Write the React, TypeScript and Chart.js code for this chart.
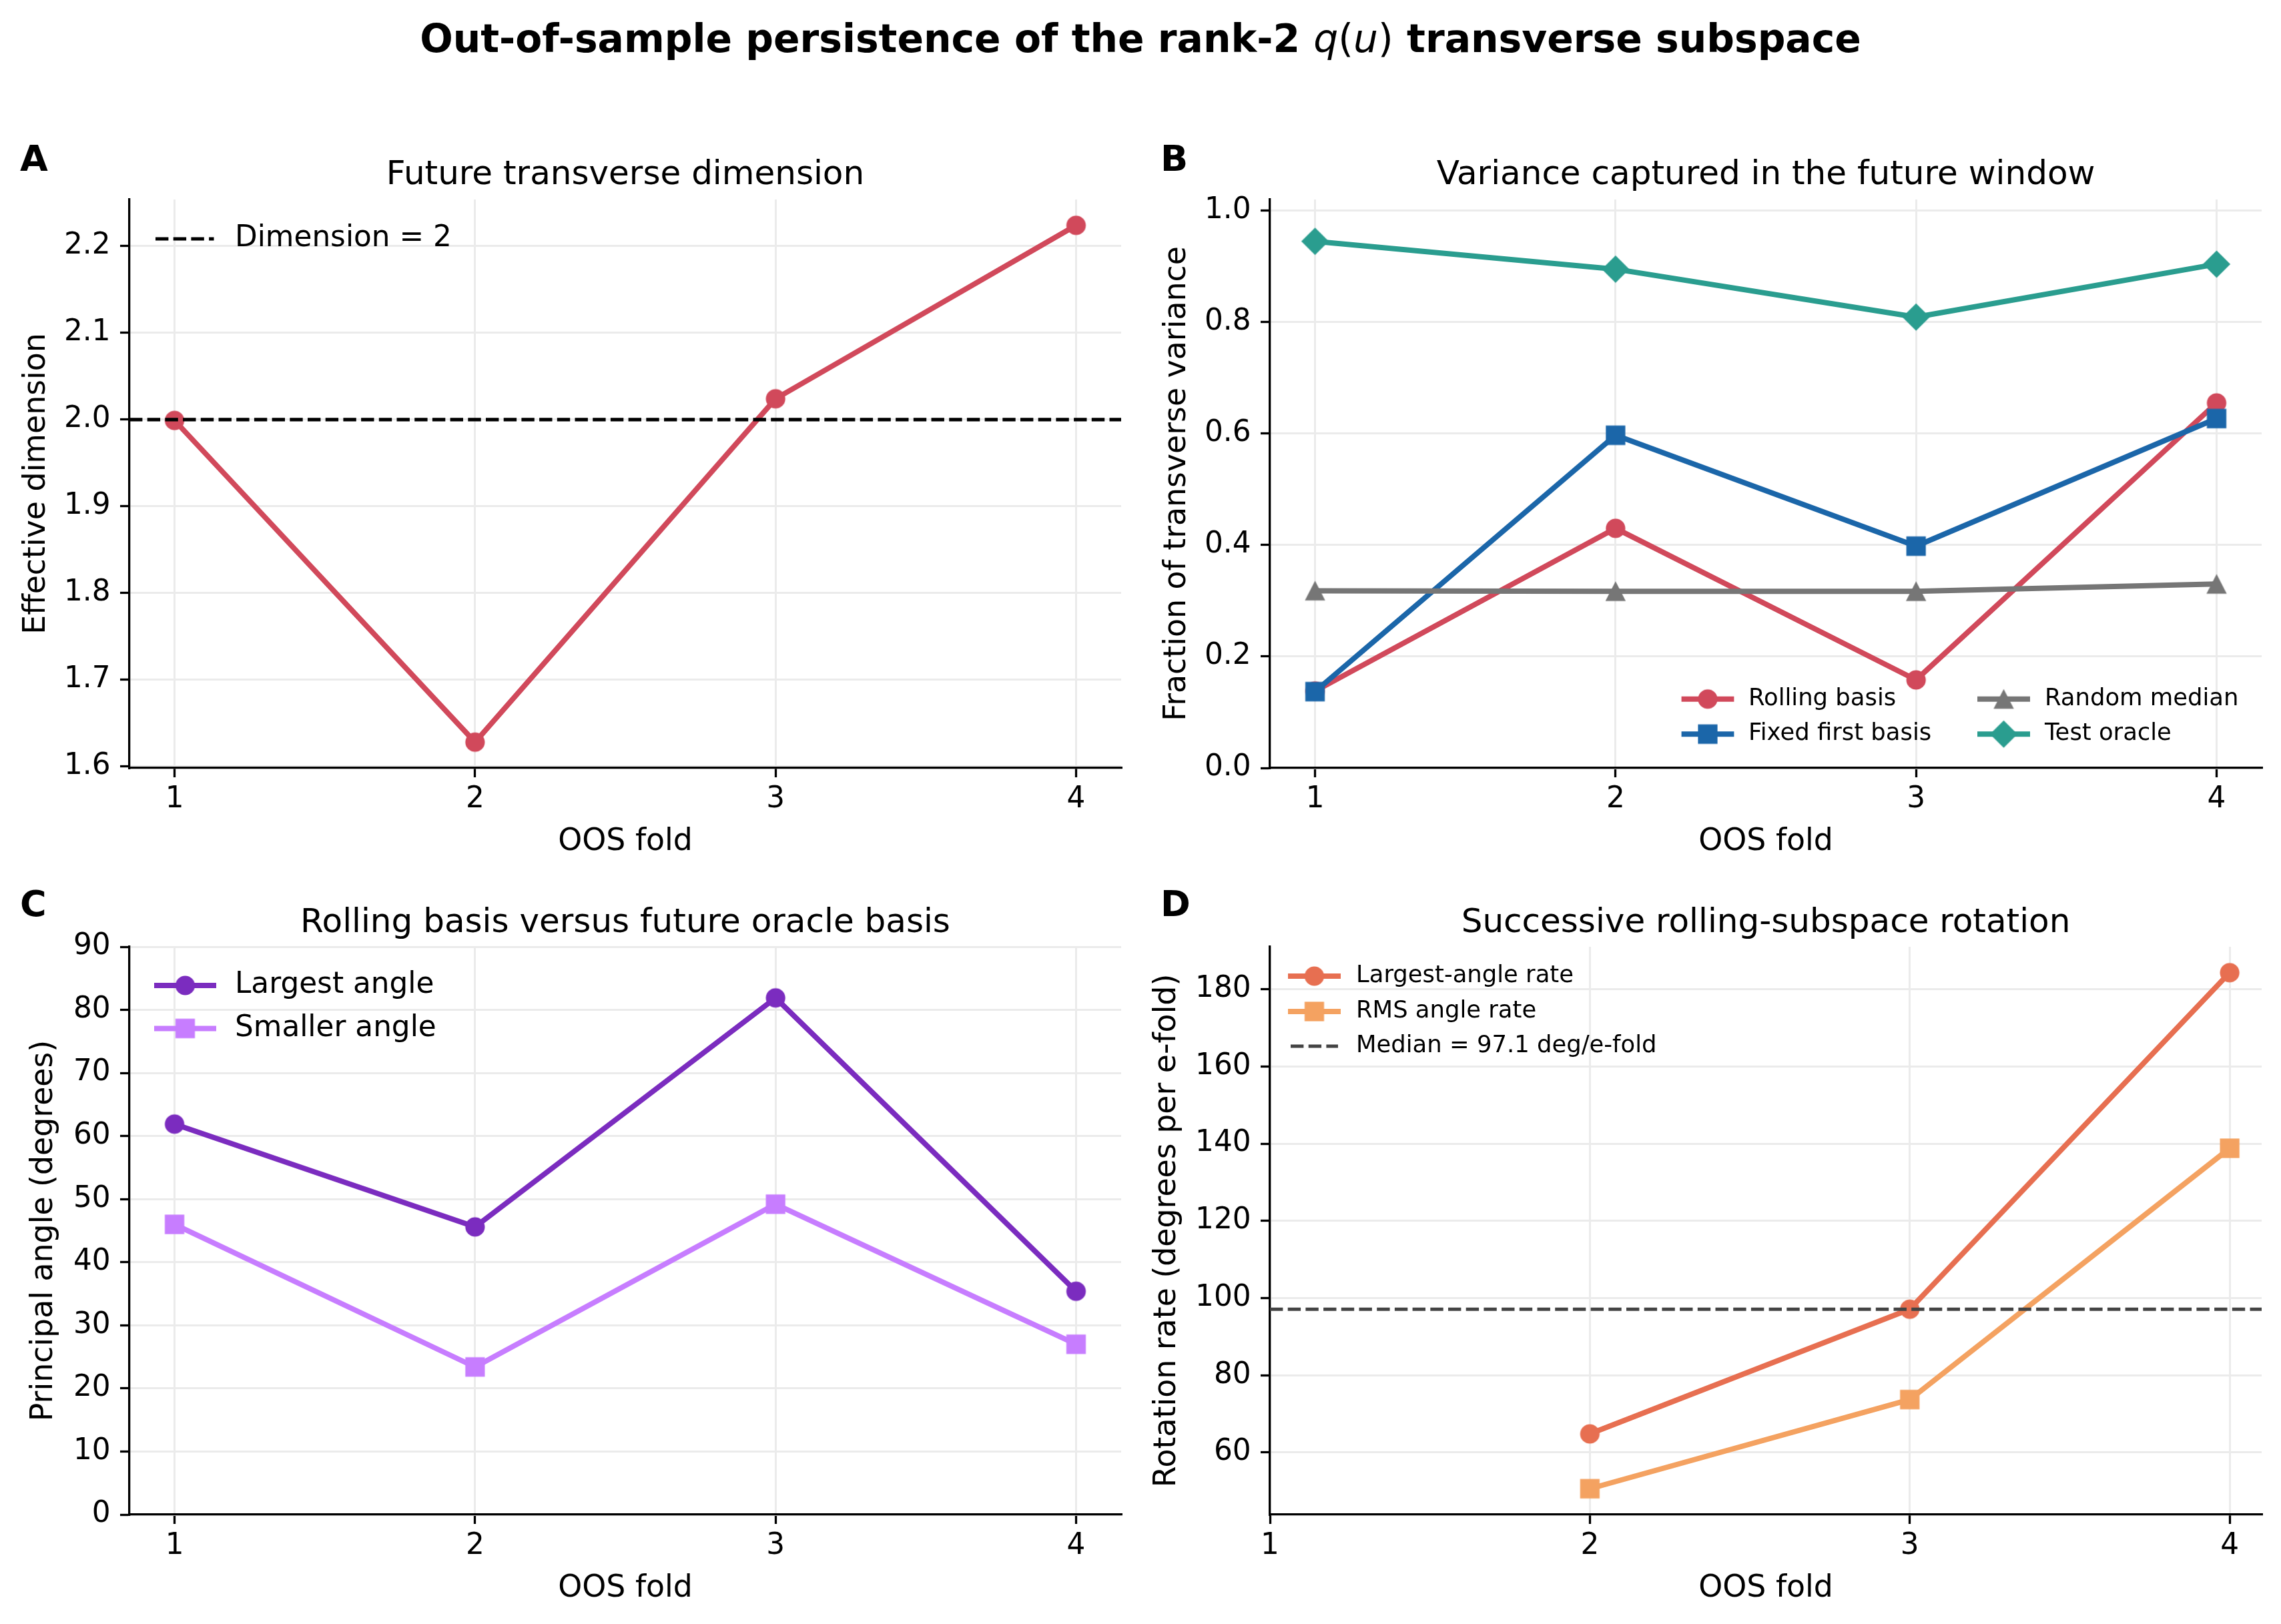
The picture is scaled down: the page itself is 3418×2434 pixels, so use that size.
import React, { useEffect, useRef } from 'react';
import { Chart, registerables } from 'chart.js';

Chart.register(...registerables);

const FONT = 'DejaVu Sans';

// ---------------- data ----------------
const folds = [1, 2, 3, 4];
const foldTicks = [1, 2, 3, 4];

// Panel A
const effectiveDimension = [1.999, 1.628, 2.024, 2.224];
const dimensionReference = 2;
const dimensionTicks = [1.6, 1.7, 1.8, 1.9, 2.0, 2.1, 2.2];

// Panel B
const rollingBasis = [0.138, 0.43, 0.158, 0.655];
const fixedFirstBasis = [0.137, 0.597, 0.398, 0.627];
const randomMedian = [0.318, 0.317, 0.317, 0.33];
const testOracle = [0.945, 0.895, 0.809, 0.904];
const varianceTicks = [0, 0.2, 0.4, 0.6, 0.8, 1.0];

// Panel C
const largestAngle = [61.9, 45.6, 81.9, 35.4];
const smallerAngle = [46.0, 23.4, 49.2, 27.0];
const angleTicks = [0, 10, 20, 30, 40, 50, 60, 70, 80, 90];

// Panel D
const rateFolds = [2, 3, 4];
const largestAngleRate = [64.8, 97.1, 184.3];
const rmsAngleRate = [50.6, 73.7, 138.8];
const medianRate = 97.1;
const rateTicks = [60, 80, 100, 120, 140, 160, 180];

// ---------------- colours ----------------
const RED = '#d1495b';
const BLUE = '#1b66a9';
const GRAY = '#767676';
const TEAL = '#2a9d8f';
const PURPLE = '#7b2cbf';
const LILAC = '#c77dff';
const ORANGE = '#e76f51';
const SAND = '#f4a261';
const DARK = '#444444';

const DASH = [19.4, 7.3];

type Shape = 'circle' | 'square' | 'triangle' | 'diamond';

function makeMarker(shape: Shape, color: string): HTMLCanvasElement {
  const c = document.createElement('canvas');
  const s = shape === 'diamond' ? 44 : 32;
  c.width = s;
  c.height = s;
  const g = c.getContext('2d')!;
  const m = s / 2;
  g.fillStyle = color;
  g.beginPath();
  if (shape === 'circle') g.arc(m, m, 14.6, 0, Math.PI * 2);
  else if (shape === 'square') g.rect(m - 14.6, m - 14.6, 29.2, 29.2);
  else if (shape === 'triangle') {
    g.moveTo(m, m - 15);
    g.lineTo(m + 15.2, m + 14.6);
    g.lineTo(m - 15.2, m + 14.6);
    g.closePath();
  } else {
    g.moveTo(m, m - 20.6);
    g.lineTo(m + 20.6, m);
    g.lineTo(m, m + 20.6);
    g.lineTo(m - 20.6, m);
    g.closePath();
  }
  g.fill();
  return c;
}

interface Series {
  label: string;
  xs: number[];
  ys: number[];
  color: string;
  width: number;
  marker?: Shape;
  dash?: number[];
}

interface LegendItem {
  s: number;
  hx0: number;
  hx1: number;
  tx: number;
  y: number;
}

interface Panel {
  letter: string;
  title: string;
  ylabel: string;
  cx: number;
  cy: number;
  cw: number;
  ch: number;
  areaTop: number;
  padBottom: number;
  titleBaseline: number;
  letterBaseline: number;
  yTitlePad: number;
  xTitlePad: number;
  xMin: number;
  xMax: number;
  yMin: number;
  yMax: number;
  yTicks: number[];
  yFmt: (v: number) => string;
  series: Series[];
  legend: LegendItem[];
  legendFont: number;
}

const fmt1 = (v: number) => v.toFixed(1);
const fmt0 = (v: number) => String(Math.round(v));

const panels: Panel[] = [
  {
    letter: 'A',
    title: 'Future transverse dimension',
    ylabel: 'Effective dimension',
    cx: 0, cy: 0, cw: 1709, ch: 1300,
    areaTop: 299, padBottom: 9,
    titleBaseline: 276, letterBaseline: 256,
    yTitlePad: 27.5, xTitlePad: 1.8,
    xMin: 0.85, xMax: 4.15, yMin: 1.5982, yMax: 2.2538,
    yTicks: dimensionTicks, yFmt: fmt1,
    series: [
      { label: 'Effective dimension', xs: folds, ys: effectiveDimension, color: RED, width: 8, marker: 'circle' },
      { label: 'Dimension = 2', xs: [0.85, 4.15], ys: [dimensionReference, dimensionReference], color: '#000', width: 5.2, dash: DASH },
    ],
    legend: [{ s: 1, hx0: 233, hx1: 320.5, tx: 352, y: 358 }],
    legendFont: 43.75,
  },
  {
    letter: 'B',
    title: 'Variance captured in the future window',
    ylabel: 'Fraction of transverse variance',
    cx: 1709, cy: 0, cw: 1709, ch: 1300,
    areaTop: 299, padBottom: 9,
    titleBaseline: 276, letterBaseline: 256,
    yTitlePad: 27.5, xTitlePad: 1.8,
    xMin: 0.85, xMax: 4.15, yMin: 0, yMax: 1.02,
    yTicks: varianceTicks, yFmt: fmt1,
    series: [
      { label: 'Rolling basis', xs: folds, ys: rollingBasis, color: RED, width: 8, marker: 'circle' },
      { label: 'Fixed first basis', xs: folds, ys: fixedFirstBasis, color: BLUE, width: 8, marker: 'square' },
      { label: 'Random median', xs: folds, ys: randomMedian, color: GRAY, width: 8, marker: 'triangle' },
      { label: 'Test oracle', xs: folds, ys: testOracle, color: TEAL, width: 8, marker: 'diamond' },
    ],
    legend: [
      { s: 0, hx0: 810.6, hx1: 889.4, tx: 911, y: 1047.7 },
      { s: 1, hx0: 810.6, hx1: 889.4, tx: 911, y: 1100.3 },
      { s: 2, hx0: 1254, hx1: 1333, tx: 1355, y: 1047.7 },
      { s: 3, hx0: 1254, hx1: 1333, tx: 1355, y: 1100.3 },
    ],
    legendFont: 35.4,
  },
  {
    letter: 'C',
    title: 'Rolling basis versus future oracle basis',
    ylabel: 'Principal angle (degrees)',
    cx: 0, cy: 1217, cw: 1709, ch: 1217,
    areaTop: 202, padBottom: 24,
    titleBaseline: 180, letterBaseline: 156,
    yTitlePad: 38.5, xTitlePad: 1.6,
    xMin: 0.85, xMax: 4.15, yMin: 0, yMax: 90,
    yTicks: angleTicks, yFmt: fmt0,
    series: [
      { label: 'Largest angle', xs: folds, ys: largestAngle, color: PURPLE, width: 8, marker: 'circle' },
      { label: 'Smaller angle', xs: folds, ys: smallerAngle, color: LILAC, width: 8, marker: 'square' },
    ],
    legend: [
      { s: 0, hx0: 231, hx1: 324, tx: 352, y: 260 },
      { s: 1, hx0: 231, hx1: 324, tx: 352, y: 324.4 },
    ],
    legendFont: 43.75,
  },
  {
    letter: 'D',
    title: 'Successive rolling-subspace rotation',
    ylabel: 'Rotation rate (degrees per e-fold)',
    cx: 1709, cy: 1217, cw: 1709, ch: 1217,
    areaTop: 202, padBottom: 24,
    titleBaseline: 180, letterBaseline: 156,
    yTitlePad: 12.5, xTitlePad: 1.6,
    xMin: 1, xMax: 4.1, yMin: 43.9, yMax: 191.0,
    yTicks: rateTicks, yFmt: fmt0,
    series: [
      { label: 'Largest-angle rate', xs: rateFolds, ys: largestAngleRate, color: ORANGE, width: 8, marker: 'circle' },
      { label: 'RMS angle rate', xs: rateFolds, ys: rmsAngleRate, color: SAND, width: 8, marker: 'square' },
      { label: 'Median = 97.1 deg/e-fold', xs: [1, 4.1], ys: [medianRate, medianRate], color: DARK, width: 5.2, dash: DASH },
    ],
    legend: [
      { s: 0, hx0: 221, hx1: 300, tx: 323, y: 246 },
      { s: 1, hx0: 221, hx1: 300, tx: 323, y: 299 },
      { s: 2, hx0: 225, hx1: 296, tx: 323, y: 351 },
    ],
    legendFont: 35.4,
  },
];

const Y_AXIS_W = 194;
const X_AXIS_H = 140;

function buildConfig(p: Panel): any {
  const markers = p.series.map((s) => (s.marker ? makeMarker(s.marker, s.color) : null));
  const n = p.series.length;
  const datasets = p.series.map((s, i) => ({
    label: s.label,
    data: s.xs.map((x, j) => ({ x, y: s.ys[j] })),
    borderColor: s.color,
    backgroundColor: s.color,
    borderWidth: s.width,
    borderDash: s.dash || [],
    borderJoinStyle: 'round',
    borderCapStyle: 'butt',
    pointStyle: markers[i] || 'circle',
    pointRadius: markers[i] ? 15 : 0,
    pointBorderWidth: 0,
    tension: 0,
    fill: false,
    order: n - i,
  }));

  const grid = {
    color: '#ebebeb',
    lineWidth: 3,
    tickColor: '#000',
    tickLength: 14,
    tickWidth: 3.3,
    drawTicks: true,
  };
  const border = { display: true, color: '#000', width: 3.3 };

  const decor = {
    id: 'decor' + p.letter,
    afterDatasetsDraw(chart: any) {
      const ctx: CanvasRenderingContext2D = chart.ctx;
      ctx.save();
      for (const it of p.legend) {
        const s = p.series[it.s];
        ctx.strokeStyle = s.color;
        ctx.lineWidth = s.width;
        ctx.lineCap = 'butt';
        ctx.setLineDash(s.dash || []);
        ctx.beginPath();
        ctx.moveTo(it.hx0, it.y);
        ctx.lineTo(it.hx1, it.y);
        ctx.stroke();
        ctx.setLineDash([]);
        const mk = markers[it.s];
        if (mk) {
          ctx.drawImage(mk, (it.hx0 + it.hx1) / 2 - mk.width / 2, it.y - mk.height / 2);
        }
        ctx.fillStyle = '#000';
        ctx.font = `${p.legendFont}px "${FONT}"`;
        ctx.textAlign = 'left';
        ctx.textBaseline = 'middle';
        ctx.fillText(s.label, it.tx, it.y);
      }
      ctx.restore();
    },
    afterDraw(chart: any) {
      const ctx: CanvasRenderingContext2D = chart.ctx;
      const a = chart.chartArea;
      ctx.save();
      ctx.fillStyle = '#000';
      ctx.font = `50px "${FONT}"`;
      ctx.textAlign = 'center';
      ctx.textBaseline = 'alphabetic';
      ctx.fillText(p.title, (a.left + a.right) / 2, p.titleBaseline);
      ctx.font = `bold 54px "${FONT}"`;
      ctx.textAlign = 'left';
      ctx.fillText(p.letter, 30, p.letterBaseline);
      ctx.restore();
    },
  };

  return {
    type: 'line',
    data: { datasets },
    plugins: [decor],
    options: {
      animation: false,
      responsive: false,
      maintainAspectRatio: false,
      events: [],
      layout: {
        padding: { left: 0, right: p.cw - 1680, top: p.areaTop, bottom: p.padBottom },
      },
      plugins: {
        legend: { display: false },
        tooltip: { enabled: false },
        title: { display: false },
      },
      scales: {
        x: {
          type: 'linear',
          bounds: 'data',
          min: p.xMin,
          max: p.xMax,
          afterBuildTicks: (sc: any) => {
            sc.ticks = foldTicks.map((v) => ({ value: v }));
          },
          afterFit: (sc: any) => {
            sc.height = X_AXIS_H;
          },
          ticks: {
            autoSkip: false,
            maxRotation: 0,
            minRotation: 0,
            padding: 7.75,
            color: '#000',
            font: { family: FONT, size: 43.75 },
            callback: (v: any) => String(v),
          },
          grid,
          border,
          title: {
            display: true,
            text: 'OOS fold',
            color: '#000',
            font: { family: FONT, size: 45.8 },
            padding: { top: 0, bottom: p.xTitlePad },
          },
        },
        y: {
          type: 'linear',
          bounds: 'data',
          min: p.yMin,
          max: p.yMax,
          afterBuildTicks: (sc: any) => {
            sc.ticks = p.yTicks.map((v) => ({ value: v }));
          },
          afterFit: (sc: any) => {
            sc.width = Y_AXIS_W;
          },
          ticks: {
            autoSkip: false,
            padding: 14.4,
            color: '#000',
            font: { family: FONT, size: 43.75 },
            callback: (v: any) => p.yFmt(Number(v)),
          },
          grid,
          border,
          title: {
            display: true,
            text: p.ylabel,
            color: '#000',
            font: { family: FONT, size: 45.8 },
            padding: { top: p.yTitlePad, bottom: 0 },
          },
        },
      },
    },
  };
}

export default function App() {
  const r0 = useRef<HTMLCanvasElement>(null);
  const r1 = useRef<HTMLCanvasElement>(null);
  const r2 = useRef<HTMLCanvasElement>(null);
  const r3 = useRef<HTMLCanvasElement>(null);
  const refs = [r0, r1, r2, r3];

  useEffect(() => {
    Chart.defaults.font.family = FONT;
    Chart.defaults.color = '#000';
    const charts = panels.map((p, i) => new Chart(refs[i].current as HTMLCanvasElement, buildConfig(p)));
    return () => {
      charts.forEach((c) => c.destroy());
    };
  }, []);

  return (
    <div
      style={{
        position: 'fixed',
        left: 0,
        top: 0,
        width: 3418,
        height: 2434,
        background: '#ffffff',
        overflow: 'hidden',
      }}
    >
      <div
        style={{
          position: 'absolute',
          left: 0,
          top: 24,
          width: 3418,
          textAlign: 'center',
          fontFamily: FONT,
          fontWeight: 'bold',
          fontSize: 58.3,
          lineHeight: '68px',
          whiteSpace: 'nowrap',
          color: '#000',
        }}
      >
        Out-of-sample persistence of the rank-2{' '}
        <span style={{ fontWeight: 'normal' }}>
          <span style={{ fontStyle: 'italic' }}>q</span>(<span style={{ fontStyle: 'italic' }}>u</span>)
        </span>{' '}
        transverse subspace
      </div>
      {panels.map((p, i) => (
        <canvas
          key={p.letter}
          ref={refs[i]}
          width={p.cw}
          height={p.ch}
          style={{ position: 'absolute', left: p.cx, top: p.cy, width: p.cw, height: p.ch }}
        />
      ))}
    </div>
  );
}
